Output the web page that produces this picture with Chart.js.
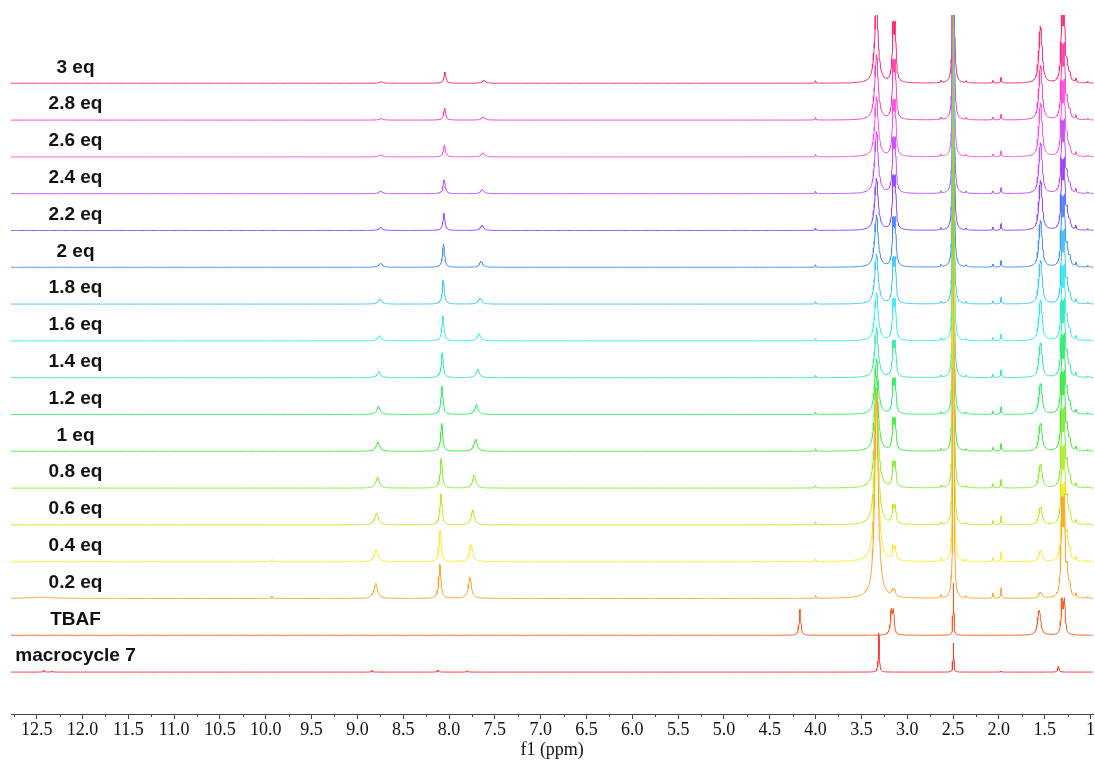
<!DOCTYPE html>
<html>
<head>
<meta charset="utf-8">
<script src="https://cdn.jsdelivr.net/npm/chart.js@4.4.1/dist/chart.umd.min.js"></script>
<style>
  html, body { margin: 0; padding: 0; background: #fff; }
  canvas { display: block; }
</style>
</head>
<body>
<canvas id="c" width="1095" height="764" style="width:1095px;height:764px"></canvas>
<script>
// ---------------- DATA ----------------
const spectra = ['3 eq','2.8 eq','2.6 eq','2.4 eq','2.2 eq','2 eq','1.8 eq','1.6 eq','1.4 eq','1.2 eq','1 eq','0.8 eq','0.6 eq','0.4 eq','0.2 eq','TBAF','macrocycle 7'];

// x-axis tick labels (ppm)
const tickValues = [12.5,12.0,11.5,11.0,10.5,10.0,9.5,9.0,8.5,8.0,7.5,7.0,6.5,6.0,5.5,5.0,4.5,4.0,3.5,3.0,2.5,2.0,1.5,1.0];

// peak positions (ppm) and heights (intensity units above each trace's baseline)
// water ~3.33
const waterPos = [3.335,3.335,3.335,3.335,3.335,3.335,3.335,3.335,3.335,3.335,3.335,3.335,3.335,3.335,3.335,null,3.31];
const waterH   = [80,65,60,62,52,52,50,48,50,56,75,100,130,165,208,0,39];
// N-CH2 multiplet ~3.15
const nch2Pos  = [3.143,3.143,3.143,3.143,3.143,3.143,3.143,3.143,3.143,3.143,3.143,3.143,3.143,3.143,3.148,3.163,null];
const nch2H    = [61,60,57,56,55,50,47,42,37,36,33,26,19,14,7,27,0];
// DMSO 2.50
const dmsoPos  = [2.495,2.495,2.495,2.495,2.495,2.495,2.495,2.495,2.495,2.495,2.495,2.495,2.495,2.495,2.495,2.495,2.495];
const dmsoH    = [620,620,620,620,620,620,620,620,620,620,620,620,620,620,620,52,29];
// CH2 ~1.55
const ch2aPos  = [1.545,1.545,1.545,1.545,1.545,1.545,1.545,1.545,1.545,1.545,1.545,1.545,1.545,1.545,1.545,1.56,null];
const ch2aH    = [57,55,54,51,50,47,44,41,35,31,28,24,18,11,6,25,0];
// CH2 multiplet ~1.30 (+ shoulders)
const ch2bPos  = [1.30,1.30,1.30,1.30,1.30,1.30,1.30,1.30,1.30,1.30,1.30,1.30,1.30,1.30,1.30,1.298,1.35];
const ch2bH    = [80,75,75,72,70,70,72,74,76,78,78,78,77,76,100,37,6];
const shoulder1H = [15,15,15,15,16,16,17,17,18,18,19,20,21,22,24,0,0];   // ~1.255
const shoulder2H = [7,7,7,7,7,8,8,8,8,9,9,9,10,10,11,0,0];              // ~1.225
// aromatic signals
const arAPos = [8.74,8.74,8.742,8.744,8.746,8.746,8.75,8.757,8.765,8.77,8.775,8.78,8.79,8.797,8.80,null,8.84];
const arAH   = [1.5,1.5,2,2.5,3,4,5,5,6,8,9,11,12,12,15,0,1.5];
const arBPos = [8.045,8.048,8.05,8.053,8.056,8.06,8.063,8.067,8.074,8.078,8.08,8.085,8.088,8.096,8.10,null,8.12];
const arBH   = [11,12,12,14,17,23,24,25,25,28,28,30,31,32,34,0,2];
const arCPos = [7.62,7.625,7.63,7.635,7.638,7.649,7.66,7.674,7.685,7.70,7.71,7.725,7.74,7.757,7.772,null,7.80];
const arCH   = [3,3,4,4,5,6,6,7,8,10,12,13,15,17,21,0,1.5];
// small signals
const minorPos = [4.0,2.63,2.355,2.065,1.975,1.16,1.03];
const minorH = [
  [2.5,2,2,2.5,6,4,1.5],[2.5,2,2,2.5,6,4,1.5],[2.5,2,2,2.5,6,4,1.5],[2.5,2,2,2.5,6,4,1.5],
  [2.5,2,2,3,7,4,1.5],[2.5,2,2,3,7,4,1.5],[2.5,2,2,3,7,4,1.5],[2.5,2,2,3,7,4,1.5],
  [2.5,2,2,3,8,4,1.5],[2.5,2,2,3,8,4,1.5],[2.5,2,2,3.5,8,4,1.5],[2.5,2,2,4,9,4,1.5],
  [3,2,2,4,9,4,1.5],[3,2.5,2,4,10,4,1.5],[3,3,2,5,11,4,1.5],[0,0,0,0,0,0,0],[0,0,0,0,1,0,0]
];
const tbafExtraPos = 4.17, tbafExtraH = 26;      // TBAF only
const lowField = { '0.4 eq': [[9.93,2]], '0.2 eq': [[9.93,2],[7.95,1.2]], 'macrocycle 7': [[12.42,1.5],[12.33,1]] };

// ---------------- STYLE / LAYOUT ----------------
const colors = ['#ff2a6a','#ff3fb4','#ff4fe6','#c24dff','#8a46ff','#3f8cff','#3fc6ff','#33eeee','#33eea6','#33ee66','#40ee3c','#86ee33','#b8ee22','#ffe82a','#ffa42e','#ff5a1e','#ff3232'];
const XMIN = 0.97, XMAX = 12.78;
const TOP_BASE = 630.7, SPACING = 36.8;   // baseline offsets of stacked traces
const LW = { water: 0.022, waterRef: 0.006, nch2: 0.011, dmso: 0.0045, ch2a: 0.017, ch2b: 0.0105, sh: 0.012,
             arA: 0.022, arB: 0.013, arC: 0.02, arRef: 0.008, minor: 0.006, tbaf: 0.01, small: 0.008 };
const OFFS = [-12,-8,-5,-3.5,-2.5,-1.8,-1.3,-1,-0.7,-0.45,-0.25,-0.1,0,0.1,0.25,0.45,0.7,1,1.3,1.8,2.5,3.5,5,8,12];

function peakList(i) {
  const L = [];
  const add = (p, h, w) => { if (p != null && h > 0) L.push([p, h, w]); };
  const name = spectra[i];
  const ref = name === 'macrocycle 7';
  add(waterPos[i], waterH[i], ref ? LW.waterRef : LW.water);
  if (nch2H[i] > 0) { add(nch2Pos[i] + 0.012, nch2H[i] / 1.17, LW.nch2); add(nch2Pos[i] - 0.012, nch2H[i] / 1.17, LW.nch2); }
  add(dmsoPos[i], dmsoH[i], LW.dmso);
  if (ch2aH[i] > 0) { add(ch2aPos[i] + 0.006, ch2aH[i] / 1.78, LW.ch2a); add(ch2aPos[i] - 0.006, ch2aH[i] / 1.78, LW.ch2a); }
  if (ref) add(ch2bPos[i], ch2bH[i], LW.small);
  else { add(ch2bPos[i] + 0.013, ch2bH[i] / 1.13, LW.ch2b); add(ch2bPos[i] - 0.013, ch2bH[i] / 1.13, LW.ch2b); }
  add(1.255, shoulder1H[i], LW.sh);
  add(1.225, shoulder2H[i], LW.sh);
  add(arAPos[i], arAH[i], ref ? LW.arRef : LW.arA);
  add(arBPos[i], arBH[i], ref ? LW.arRef : LW.arB);
  add(arCPos[i], arCH[i], ref ? LW.arRef : LW.arC);
  minorPos.forEach((p, k) => add(p, minorH[i][k], LW.minor));
  if (name === 'TBAF') add(tbafExtraPos, tbafExtraH, LW.tbaf);
  (lowField[name] || []).forEach(([p, h]) => add(p, h, LW.small));
  if (name === '0.2 eq') add(12.45, 1.3, 0.15);
  return L;
}

function traceData(i) {
  const base = TOP_BASE - SPACING * i;
  const peaks = peakList(i);
  const xs = [];
  for (let x = XMIN; x <= XMAX + 1e-9; x += 0.01) xs.push(x);
  peaks.forEach(([p, h, w]) => OFFS.forEach(k => xs.push(p + k * w)));
  xs.sort((a, b) => a - b);
  const out = [];
  let last = -1;
  for (const x of xs) {
    if (x < XMIN - 0.02 || x > XMAX + 0.02 || x - last < 1e-5) continue;
    last = x;
    let y = base;
    for (const [p, h, w] of peaks) { const d = (x - p) / w; y += h / (1 + d * d); }
    out.push({ x, y });
  }
  return out;
}

const datasets = spectra.map((name, i) => ({
  label: name,
  data: traceData(i),
  borderColor: colors[i],
  borderWidth: 1,
  pointRadius: 0,
  fill: false,
  tension: 0,
  order: spectra.length - i
}));

const labelPlugin = {
  id: 'traceLabels',
  afterDatasetsDraw(chart) {
    const ctx = chart.ctx, ys = chart.scales.y;
    ctx.save();
    ctx.font = 'bold 19px "Liberation Sans", Arial, sans-serif';
    ctx.fillStyle = '#111';
    ctx.textAlign = 'center';
    ctx.textBaseline = 'middle';
    spectra.forEach((name, i) => {
      const y = ys.getPixelForValue(TOP_BASE - SPACING * i + 16);
      ctx.fillText(name, 75.5, y);
    });
    ctx.restore();
  }
};

const minorTickPlugin = {
  id: 'minorTicks',
  afterDraw(chart) {
    const xs = chart.scales.x, ctx = chart.ctx;
    ctx.save();
    ctx.strokeStyle = '#444';
    ctx.lineWidth = 1;
    for (let v = 12.75; v > XMIN; v -= 0.5) {
      const px = Math.round(xs.getPixelForValue(v)) + 0.5;
      ctx.beginPath();
      ctx.moveTo(px, xs.top);
      ctx.lineTo(px, xs.top + 3);
      ctx.stroke();
    }
    ctx.restore();
  }
};

new Chart(document.getElementById('c'), {
  type: 'line',
  data: { datasets },
  options: {
    responsive: false,
    animation: false,
    parsing: false,
    normalized: true,
    layout: { padding: { left: 11, right: 0, top: 15, bottom: 0 } },
    plugins: { legend: { display: false }, tooltip: { enabled: false } },
    scales: {
      x: {
        type: 'linear',
        reverse: true,
        min: XMIN,
        max: XMAX,
        afterFit: s => { s.height = 50; },
        afterBuildTicks: s => { s.ticks = tickValues.map(v => ({ value: v })); },
        border: { display: true, color: '#444', width: 1 },
        grid: { display: true, drawOnChartArea: false, drawTicks: true, tickLength: 5, color: '#444' },
        ticks: {
          autoSkip: false, maxRotation: 0, includeBounds: false, padding: 0,
          color: '#111',
          font: { family: '"Liberation Serif", "Times New Roman", serif', size: 18 },
          callback: v => (v === 1 ? '1' : Number(v).toFixed(1))
        },
        title: {
          display: true, text: 'f1 (ppm)', color: '#111',
          font: { family: '"Liberation Serif", "Times New Roman", serif', size: 18 },
          padding: { top: 0, bottom: 3 }
        }
      },
      y: { display: false, min: 0, max: 699 }
    }
  },
  plugins: [labelPlugin, minorTickPlugin]
});
</script>
</body>
</html>
